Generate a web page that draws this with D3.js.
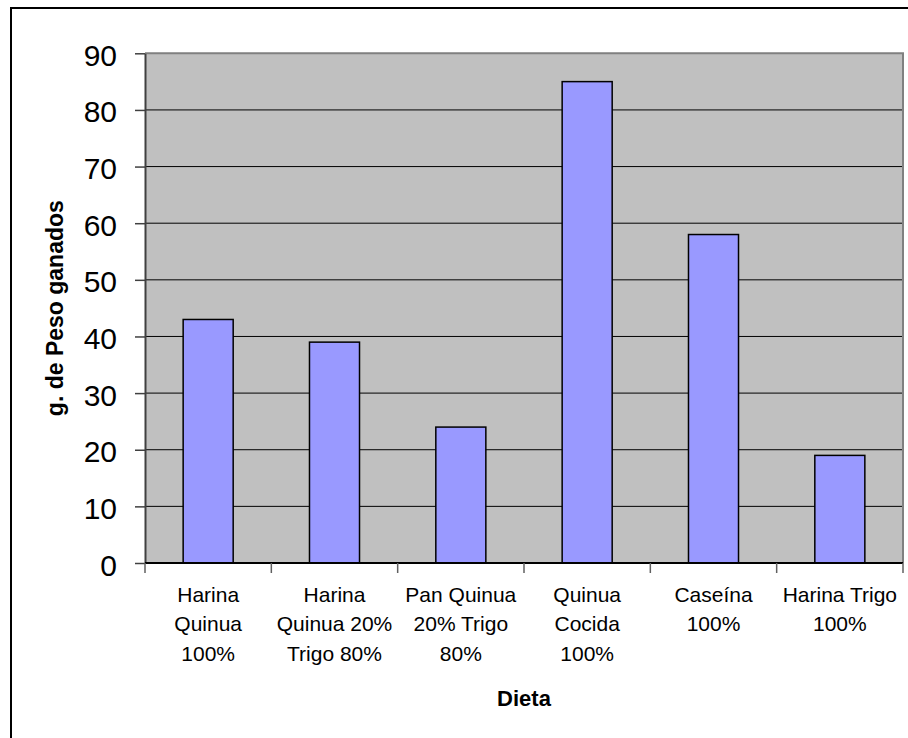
<!DOCTYPE html>
<html>
<head>
<meta charset="utf-8">
<script src="https://cdn.jsdelivr.net/npm/d3@7"></script>
<style>
  body { margin: 0; background: #fff; }
  svg { display: block; font-family: Arial, "Liberation Sans", sans-serif; }
</style>
</head>
<body>
<svg id="chart" width="908" height="738"></svg>
<script>
// categories (each label split into lines)
const categories = [
  ['Harina', 'Quinua', '100%'],
  ['Harina', 'Quinua 20%', 'Trigo 80%'],
  ['Pan Quinua', '20% Trigo', '80%'],
  ['Quinua', 'Cocida', '100%'],
  ['Caseína', '100%'],
  ['Harina Trigo', '100%']
]
// weight gained per diet
const values = [43, 39, 24, 85, 58, 19]
const yTicks = [0, 10, 20, 30, 40, 50, 60, 70, 80, 90]

function makeBars() {
  const svg = d3.select('#chart')

  // outer chart frame (cut off at right and bottom)
  svg.append('rect')
    .attr('x', 11).attr('y', 8)
    .attr('width', 1000).attr('height', 1000)
    .attr('fill', 'none')
    .attr('stroke', '#000')
    .attr('stroke-width', 2)

  // plot area bounds
  const left = 145, right = 903, top = 53.3, bottom = 563

  const x = d3.scaleBand()
    .domain(d3.range(categories.length))
    .range([left, right])
    .paddingInner(0.604)
    .paddingOuter(0.302)

  const y = d3.scaleLinear()
    .domain([0, 90])
    .range([bottom, top])

  // gray plot background
  svg.append('rect')
    .attr('x', left).attr('y', top)
    .attr('width', right - left).attr('height', bottom - top)
    .attr('fill', '#c0c0c0')

  // gridlines
  svg.append('g')
    .selectAll('line')
    .data(yTicks.filter(d => d > 0 && d < 90))
    .enter()
    .append('line')
    .attr('x1', left).attr('x2', right)
    .attr('y1', d => y(d)).attr('y2', d => y(d))
    .attr('stroke', '#000')
    .attr('stroke-width', 1)

  // plot border top and right
  svg.append('path')
    .attr('d', `M${left},${top}H${right}V${bottom}`)
    .attr('fill', 'none')
    .attr('stroke', '#808080')
    .attr('stroke-width', 2)

  // bars
  svg.append('g')
    .selectAll('rect')
    .data(values)
    .enter()
    .append('rect')
    .attr('x', (d, i) => x(i))
    .attr('y', d => y(d))
    .attr('width', x.bandwidth())
    .attr('height', d => y(0) - y(d))
    .attr('fill', '#9999ff')
    .attr('stroke', '#000')
    .attr('stroke-width', 1.5)

  // y axis
  const yAxis = d3.axisLeft(y)
    .tickValues(yTicks)
    .tickSize(10)
    .tickPadding(18)
    .tickSizeOuter(0)
  const gy = svg.append('g')
    .attr('transform', `translate(${left},0)`)
    .call(yAxis)
  gy.select('.domain').attr('stroke', '#404040').attr('stroke-width', 2)
  gy.selectAll('.tick line').attr('stroke', '#404040').attr('stroke-width', 1.5)
  gy.selectAll('.tick text')
    .attr('font-size', 30)
    .attr('font-family', 'Arial, "Liberation Sans", sans-serif')
    .attr('fill', '#000')
    .attr('dy', '0.4em')

  // x axis line and ticks between categories
  svg.append('line')
    .attr('x1', left).attr('x2', right)
    .attr('y1', bottom).attr('y2', bottom)
    .attr('stroke', '#000')
    .attr('stroke-width', 2)
  const step = x.step()
  svg.append('g')
    .selectAll('line')
    .data(d3.range(categories.length + 1))
    .enter()
    .append('line')
    .attr('x1', i => left + i * step).attr('x2', i => left + i * step)
    .attr('y1', bottom).attr('y2', bottom + 10)
    .attr('stroke', '#606060')
    .attr('stroke-width', 1.5)

  // category labels
  const labels = svg.append('g')
    .selectAll('text')
    .data(categories)
    .enter()
    .append('text')
    .attr('text-anchor', 'middle')
    .attr('font-size', 21)
    .attr('fill', '#000')
  labels.selectAll('tspan')
    .data((d, i) => d.map(t => ({ t, i })))
    .enter()
    .append('tspan')
    .attr('x', d => x(d.i) + x.bandwidth() / 2)
    .attr('y', (d, j) => 602 + j * 29.4)
    .text(d => d.t)

  // axis titles
  svg.append('text')
    .attr('x', (left + right) / 2)
    .attr('y', 706)
    .attr('text-anchor', 'middle')
    .attr('font-size', 22)
    .attr('font-weight', 'bold')
    .text('Dieta')

  svg.append('text')
    .attr('transform', `translate(63,${(top + bottom) / 2}) rotate(-90)`)
    .attr('text-anchor', 'middle')
    .attr('font-size', 23)
    .attr('font-weight', 'bold')
    .text('g. de Peso ganados')
}

window.onload = makeBars
</script>
</body>
</html>
